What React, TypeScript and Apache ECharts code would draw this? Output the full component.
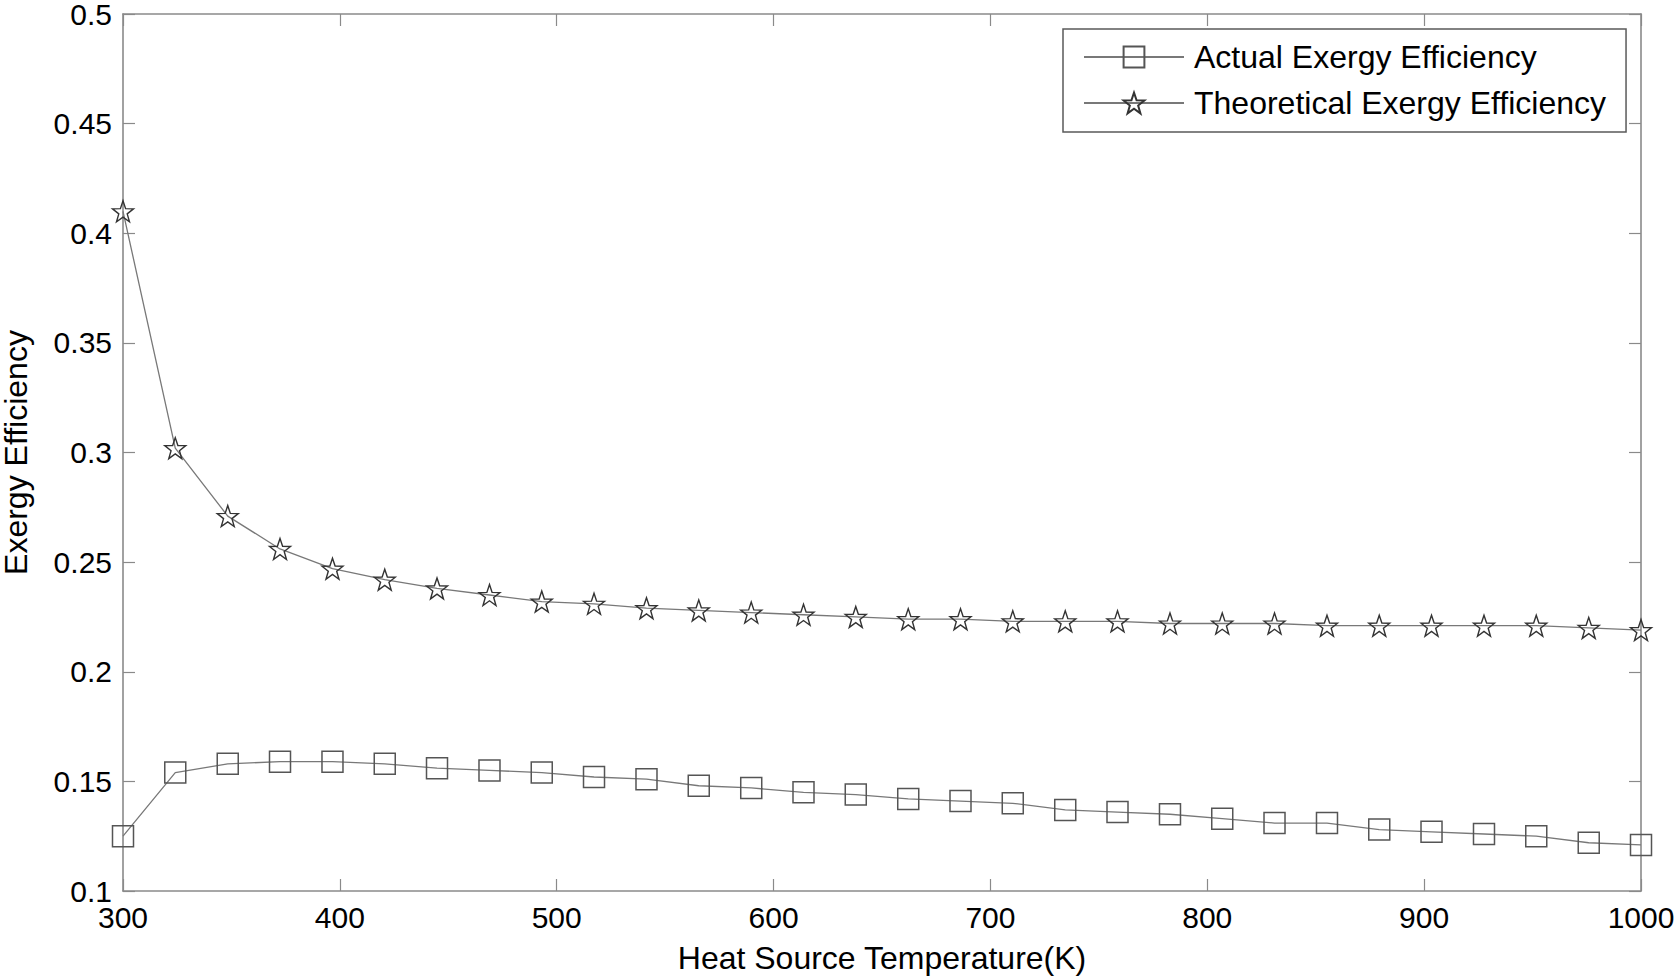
import React, { useEffect, useRef } from "react";
import * as echarts from "echarts";

const temperatures = [
  300, 324.1, 348.3, 372.4, 396.6, 420.7, 444.8, 469.0, 493.1, 517.2,
  541.4, 565.5, 589.7, 613.8, 637.9, 662.1, 686.2, 710.3, 734.5, 758.6,
  782.8, 806.9, 831.0, 855.2, 879.3, 903.4, 927.6, 951.7, 975.9, 1000,
];

const actualExergy = [
  0.125, 0.154, 0.158, 0.159, 0.159, 0.158, 0.156, 0.155, 0.154, 0.152,
  0.151, 0.148, 0.147, 0.145, 0.144, 0.142, 0.141, 0.140, 0.137, 0.136,
  0.135, 0.133, 0.131, 0.131, 0.128, 0.127, 0.126, 0.125, 0.122, 0.121,
];

const theoreticalExergy = [
  0.41, 0.302, 0.271, 0.256, 0.247, 0.242, 0.238, 0.235, 0.232, 0.231,
  0.229, 0.228, 0.227, 0.226, 0.225, 0.224, 0.224, 0.223, 0.223, 0.223,
  0.222, 0.222, 0.222, 0.221, 0.221, 0.221, 0.221, 0.221, 0.220, 0.219,
];

const seriesNames = ["Actual Exergy Efficiency", "Theoretical Exergy Efficiency"];

const STAR =
  "path://M50 0 L61.76 33.82 L97.55 34.55 L69.02 56.18 L79.39 90.45 L50 70 L20.61 90.45 L30.98 56.18 L2.45 34.55 L38.24 33.82 Z";

const FONT = "'Liberation Sans', Arial, Helvetica, sans-serif";

export default function App() {
  const ref = useRef<HTMLDivElement>(null);

  useEffect(() => {
    if (!ref.current) return;
    const chart = echarts.init(ref.current, undefined, { renderer: "svg" });
    const pairs = (ys: number[]) => temperatures.map((t, i) => [t, ys[i]]);
    const axisColor = "#8a8a8a";
    const baseX = {
      type: "value",
      min: 300,
      max: 1000,
      interval: 100,
      axisLine: { show: true, onZero: false, lineStyle: { color: axisColor, width: 1.6 } },
      axisTick: { show: true, inside: true, length: 12, lineStyle: { color: axisColor, width: 1.2 } },
      splitLine: { show: false },
    };
    const baseY = {
      type: "value",
      min: 0.1,
      max: 0.5,
      interval: 0.05,
      axisLine: { show: true, onZero: false, lineStyle: { color: axisColor, width: 1.6 } },
      axisTick: { show: true, inside: true, length: 12, lineStyle: { color: axisColor, width: 1.2 } },
      splitLine: { show: false },
    };
    chart.setOption({
      animation: false,
      backgroundColor: "#ffffff",
      textStyle: { fontFamily: FONT },
      grid: {
        left: 123,
        right: 35,
        top: 14,
        bottom: 87,
        containLabel: false,
        outerBoundsMode: "none",
      },
      legend: {
        data: seriesNames,
        orient: "vertical",
        left: 1063,
        top: 29,
        padding: [12, 20, 13, 20],
        itemGap: 14,
        itemWidth: 100,
        itemHeight: 26,
        borderColor: "#5a5a5a",
        borderWidth: 1.5,
        backgroundColor: "#fff",
        textStyle: { fontFamily: FONT, fontSize: 32, color: "#000", padding: [0, 0, 0, 5] },
      },
      xAxis: [
        {
          ...baseX,
          position: "bottom",
          name: "Heat Source Temperature(K)",
          nameLocation: "middle",
          nameGap: 52,
          nameTextStyle: { fontFamily: FONT, fontSize: 32, lineHeight: 30, color: "#000" },
          axisLabel: {
            fontFamily: FONT,
            fontSize: 30,
            color: "#000",
            margin: 11,
            formatter: (v: number) => String(v),
          },
        },
        {
          ...baseX,
          position: "top",
          axisLabel: { show: false },
        },
      ],
      yAxis: [
        {
          ...baseY,
          position: "left",
          name: "Exergy Efficiency",
          nameLocation: "middle",
          nameGap: 95,
          nameTextStyle: { fontFamily: FONT, fontSize: 32, lineHeight: 24, color: "#000" },
          axisLabel: { fontFamily: FONT, fontSize: 30, lineHeight: 24, color: "#000", margin: 11 },
        },
        {
          ...baseY,
          position: "right",
          axisLabel: { show: false },
        },
      ],
      series: [
        {
          name: seriesNames[0],
          type: "line",
          xAxisIndex: 0,
          yAxisIndex: 0,
          data: pairs(actualExergy),
          symbol: "rect",
          symbolSize: 21,
          showAllSymbol: true,
          lineStyle: { color: "#787878", width: 1.3 },
          itemStyle: { color: "rgba(255,255,255,0)", borderColor: "#555", borderWidth: 1.5 },
          z: 3,
        },
        {
          name: seriesNames[1],
          type: "line",
          xAxisIndex: 0,
          yAxisIndex: 0,
          data: pairs(theoreticalExergy),
          symbol: STAR,
          symbolSize: 21,
          showAllSymbol: true,
          lineStyle: { color: "#787878", width: 1.3 },
          itemStyle: { color: "rgba(255,255,255,0)", borderColor: "#333", borderWidth: 1.4 },
          z: 3,
        },
      ],
    });
    return () => chart.dispose();
  }, []);

  return (
    <div
      ref={ref}
      style={{ position: "absolute", left: 0, top: 0, width: 1676, height: 978 }}
    />
  );
}
